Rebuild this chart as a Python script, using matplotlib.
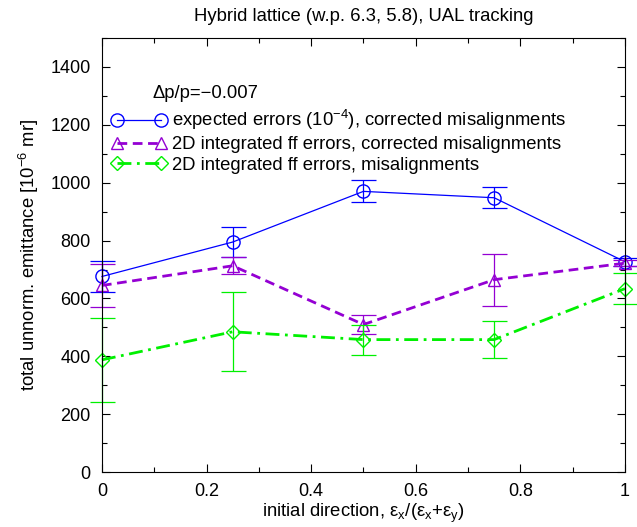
import matplotlib
matplotlib.use("Agg")
import matplotlib.pyplot as plt
from matplotlib.lines import Line2D
from matplotlib.ticker import MultipleLocator

plt.rcParams["font.family"] = ["Liberation Sans", "DejaVu Sans"]
plt.rcParams["mathtext.fontset"] = "custom"
plt.rcParams["mathtext.rm"] = "Liberation Sans"
plt.rcParams["mathtext.it"] = "Liberation Sans"

# ── data ───────────────────────────────────────────────────────────────────
direction = [0.0, 0.25, 0.5, 0.75, 1.0]

expected_val = [676, 795, 970, 948, 727]
expected_err = [52, 53, 38, 36, 14]

ff_corr_val = [645, 713, 510, 665, 722]
ff_corr_err = [75, 30, 33, 90, 10]

ff_mis_val = [388, 485, 458, 458, 634]
ff_mis_err = [145, 137, 52, 64, 53]

label_expected = r"expected errors (10$^{-4}$), corrected misalignments"
label_ff_corr = "2D integrated ff errors, corrected misalignments"
label_ff_mis = "2D integrated ff errors, misalignments"

FS = 13.3

# ── plot ───────────────────────────────────────────────────────────────────
fig = plt.figure(figsize=(6.37, 5.27), dpi=100)
ax = fig.add_axes([0.160, 0.104, 0.821, 0.824])

blue = "#0000ff"
purple = "#9400d3"
green = "#00f000"

styles = [
    dict(color=blue, lw=0.9, ls="-", marker="o", ms=9.5),
    dict(color=purple, lw=2.0, ls=(0, (3.5, 2)), marker="^", ms=9),
    dict(color=green, lw=2.0, ls=(0, (5, 2, 1, 2)), marker="D", ms=7.5),
]
series = [
    (expected_val, expected_err, label_expected),
    (ff_corr_val, ff_corr_err, label_ff_corr),
    (ff_mis_val, ff_mis_err, label_ff_mis),
]

handles = []
for (vals, errs, lab), st in zip(series, styles):
    eb = ax.errorbar(direction, vals, yerr=errs, fmt="none",
                     ecolor=st["color"], elinewidth=0.9, capsize=9,
                     capthick=0.9)
    for art in eb.lines[1] + eb.lines[2]:
        art.set_clip_on(False)
    ax.plot(direction, vals, color=st["color"], lw=st["lw"], ls=st["ls"],
            marker=st["marker"], ms=st["ms"], mfc="none", mec=st["color"],
            mew=1.0, clip_on=False)
    handles.append(Line2D([], [], color=st["color"], lw=st["lw"], ls=st["ls"],
                          marker=st["marker"], ms=st["ms"], mfc="none",
                          mec=st["color"], mew=1.0, label=lab))

ax.set_xlim(0, 1)
ax.set_ylim(0, 1500)
ax.xaxis.set_minor_locator(MultipleLocator(0.1))
ax.yaxis.set_minor_locator(MultipleLocator(100))
ax.set_xticks([0, 0.2, 0.4, 0.6, 0.8, 1.0])
ax.set_xticklabels(["0", "0.2", "0.4", "0.6", "0.8", "1"])
ax.set_yticks([0, 200, 400, 600, 800, 1000, 1200, 1400])
ax.tick_params(which="both", direction="in", top=True, right=True,
               labelsize=13)
ax.tick_params(axis="y", pad=8)
ax.tick_params(axis="x", pad=8)
ax.tick_params(which="major", length=6, width=0.8)
ax.tick_params(which="minor", length=3.5, width=0.8)

ax.set_xlabel(r"initial direction, ε$_x$/(ε$_x$+ε$_y$)", fontsize=FS,
              labelpad=1)
ax.set_ylabel(r"total unnorm. emittance [10$^{-6}$ mr]", fontsize=FS,
              labelpad=7)
ax.set_title("Hybrid lattice (w.p. 6.3, 5.8), UAL tracking", fontsize=FS,
             pad=12)

ax.text(0.0975, 0.872, "Δp/p=−0.007", transform=ax.transAxes, fontsize=FS,
        ha="left", va="center")
ax.legend(handles=handles, loc="upper left", bbox_to_anchor=(0.019, 0.838),
          frameon=False, fontsize=FS, numpoints=2, handlelength=2.95,
          handletextpad=0.32, labelspacing=0.2, borderpad=0, borderaxespad=0)

fig.savefig("out.png", dpi=100)
